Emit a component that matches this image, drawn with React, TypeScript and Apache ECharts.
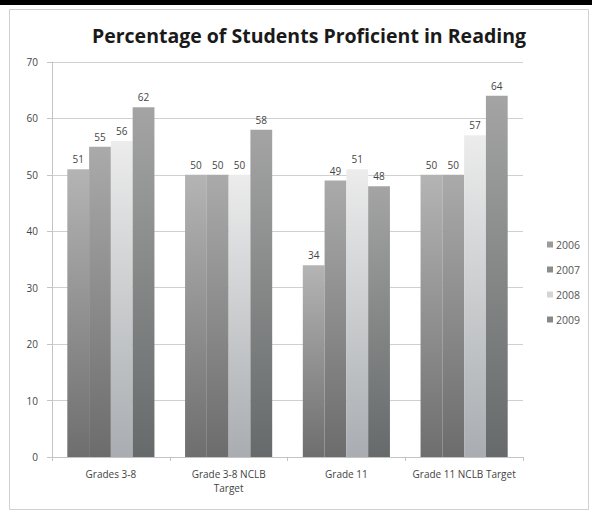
import React, { useEffect, useRef } from "react";
import * as echarts from "echarts";

const categories = ["Grades 3-8", "Grade 3-8 NCLB\nTarget", "Grade 11", "Grade 11 NCLB Target"];
const years = ["2006", "2007", "2008", "2009"];
const v2006 = [51, 50, 34, 50];
const v2007 = [55, 50, 49, 50];
const v2008 = [56, 50, 51, 57];
const v2009 = [62, 58, 48, 64];
const yTicks = [0, 10, 20, 30, 40, 50, 60, 70];

const seriesValues = [v2006, v2007, v2008, v2009];
const gradients: [string, string][] = [
  ["#b4b4b4", "#6e6e6e"],
  ["#aaaaaa", "#6c6c6c"],
  ["#ececec", "#a9adb1"],
  ["#a4a4a4", "#666a6a"],
];
const legendColors = ["#9a9a9a", "#8c8c8c", "#d4d4d4", "#888888"];

export default function App() {
  const ref = useRef<HTMLDivElement>(null);
  useEffect(() => {
    document.body.style.margin = "0";
    const chart = echarts.init(ref.current!, null, { renderer: "svg" });
    chart.setOption({
      animation: false,
      backgroundColor: "#ffffff",
      title: {
        text: "Percentage of Students Proficient in Reading",
        left: 304,
        top: 20,
        textAlign: "center",
        textStyle: { fontFamily: "Open Sans", fontWeight: "bold", fontSize: 19.5, color: "#1a1a1a" },
      },
      legend: {
        orient: "vertical",
        left: 542,
        top: 234,
        itemGap: 14,
        itemWidth: 6,
        itemHeight: 6,
        icon: "rect",
        textStyle: { fontFamily: "Open Sans", fontSize: 10.5, color: "#555", padding: [0, 0, 0, -2] },
        data: years.map((y, i) => ({ name: y, itemStyle: { color: legendColors[i] } })),
      },
      graphic: [
        { type: "rect", shape: { x: 0, y: 0, width: 592, height: 5 }, style: { fill: "#000" } },
        {
          type: "rect",
          shape: { x: 9.5, y: 9.5, width: 579, height: 500 },
          style: { fill: "none", stroke: "#d0d0d0", lineWidth: 1 },
        },
      ],
      grid: { left: 52, right: 69, top: 62, bottom: 57, containLabel: false },
      xAxis: {
        type: "category",
        data: categories,
        axisLine: { lineStyle: { color: "#c4c4c4" } },
        axisTick: { show: true, length: 4, lineStyle: { color: "#c4c4c4" } },
        axisLabel: { fontFamily: "Open Sans", fontSize: 10, color: "#444", margin: 10, lineHeight: 14, interval: 0 },
      },
      yAxis: {
        type: "value",
        min: 0,
        max: 70,
        interval: 10,
        axisLine: { show: true, lineStyle: { color: "#c4c4c4" } },
        axisTick: { show: true, length: 5, lineStyle: { color: "#c4c4c4" } },
        axisLabel: {
          fontFamily: "Open Sans",
          fontSize: 10,
          color: "#444",
          margin: 14,
          formatter: (v: number) => (yTicks.includes(v) ? String(v) : ""),
        },
        splitLine: { lineStyle: { color: "#d0d0d0" } },
      },
      series: seriesValues.map((vals, i) => ({
        name: years[i],
        type: "bar",
        data: vals,
        barGap: "0%",
        barCategoryGap: "26%",
        itemStyle: {
          color: new echarts.graphic.LinearGradient(0, 0, 0, 1, [
            { offset: 0, color: gradients[i][0] },
            { offset: 1, color: gradients[i][1] },
          ]),
        },
        label: {
          show: true,
          position: "top",
          distance: 5,
          fontFamily: "Open Sans",
          fontSize: 10,
          color: "#444",
        },
      })),
    });
    return () => chart.dispose();
  }, []);
  return <div ref={ref} style={{ width: 592, height: 514 }} />;
}
